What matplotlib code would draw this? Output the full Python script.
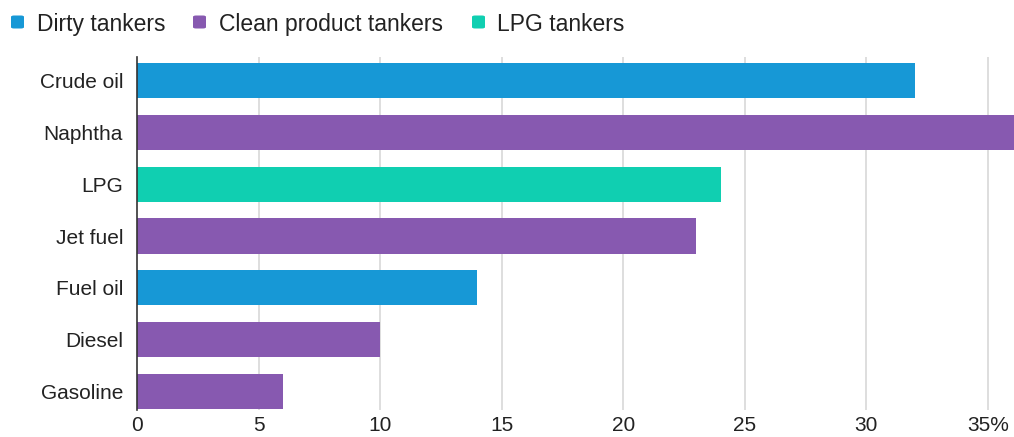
import matplotlib
matplotlib.use("Agg")
import matplotlib.pyplot as plt
from matplotlib.patches import FancyBboxPatch

plt.rcParams['font.family'] = ['Liberation Sans', 'DejaVu Sans']

categories = ["Crude oil", "Naphtha", "LPG", "Jet fuel", "Fuel oil", "Diesel", "Gasoline"]
values = [32, 37, 24, 23, 14, 10, 6]
groups = ["Dirty tankers", "Clean product tankers", "LPG tankers", "Clean product tankers",
          "Dirty tankers", "Clean product tankers", "Clean product tankers"]
legend_labels = ["Dirty tankers", "Clean product tankers", "LPG tankers"]
xticks = [0, 5, 10, 15, 20, 25, 30, 35]
xtick_labels = ["0", "5", "10", "15", "20", "25", "30", "35%"]

colors = {"Dirty tankers": "#1798d6", "Clean product tankers": "#8759b0", "LPG tankers": "#10cfb1"}

W, H = 1014, 437
fig = plt.figure(figsize=(W / 100, H / 100), dpi=100)
ax = fig.add_axes([137 / W, 1 - 410 / H, 1 - 137 / W, (410 - 57) / H])

ypos = list(range(len(categories)))
ax.barh(ypos, values, height=0.68, color=[colors[g] for g in groups], zorder=3)
ax.set_ylim(6.36, -0.46)
ax.set_xlim(0, 36.07)
ax.set_yticks(ypos)
ax.set_yticklabels(categories, fontsize=15, color="#222222")
ax.set_xticks(xticks)
ax.set_xticklabels(xtick_labels, fontsize=15, color="#222222")
ax.tick_params(axis="both", length=0)
ax.tick_params(axis="y", pad=10)
ax.tick_params(axis="x", pad=4)
for t in xticks[1:]:
    ax.axvline(t, color="#d4d4d4", lw=1.1, zorder=1)
for s in ["top", "right", "bottom"]:
    ax.spines[s].set_visible(False)
ax.spines["left"].set_color("#333333")
ax.spines["left"].set_linewidth(1.2)
ax.spines["left"].set_zorder(4)

sq_x = [10, 192, 471]
txt_x = [37, 219, 497]
yc = 22
for lab, sx, tx in zip(legend_labels, sq_x, txt_x):
    p = FancyBboxPatch(((sx + 1) / W, 1 - (yc + 6.5) / H), 13 / W, 13 / H,
                       boxstyle="round,pad=0.0,rounding_size=0.003",
                       transform=fig.transFigure, facecolor=colors[lab], edgecolor="none")
    fig.patches.append(p)
    fig.text(tx / W, 1 - yc / H, lab, fontsize=16.5, color="#222222",
             ha="left", va="center_baseline")

fig.savefig("out.png", dpi=100)
